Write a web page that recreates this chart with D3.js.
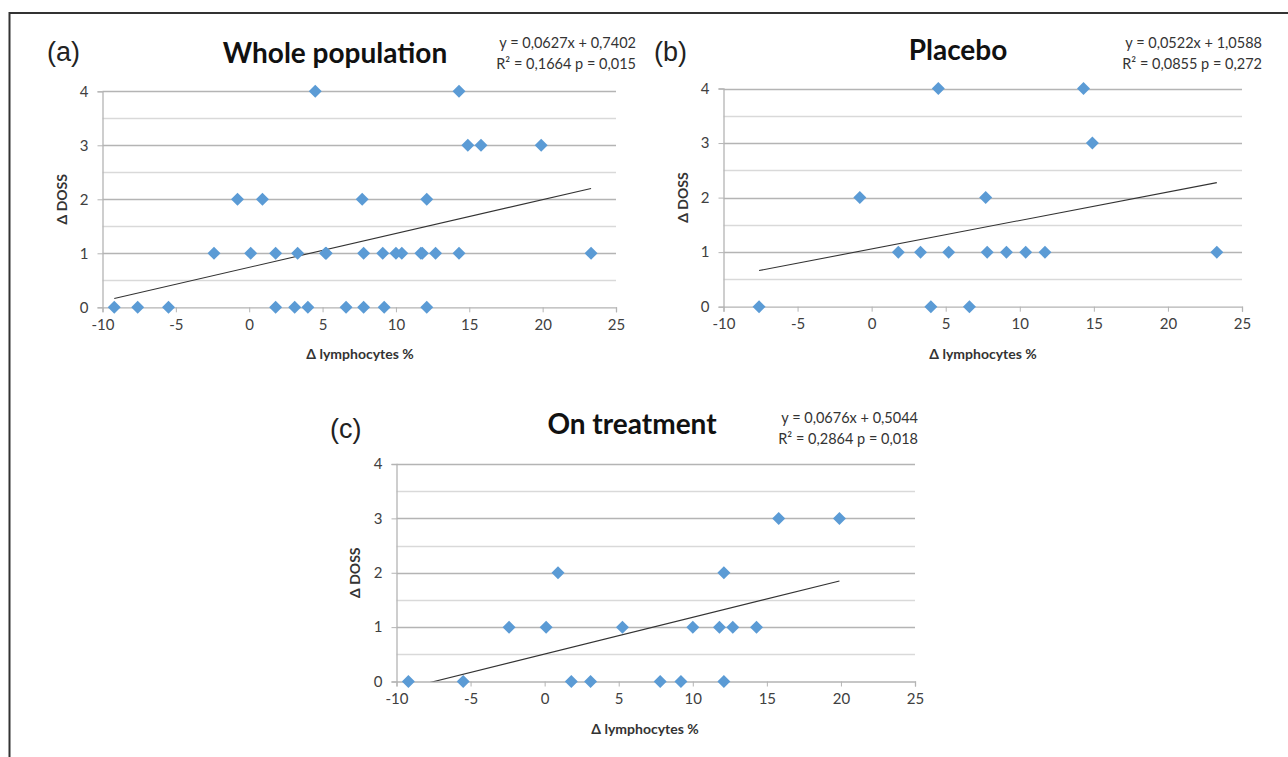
<!DOCTYPE html>
<html lang="en">
<head>
<meta charset="utf-8">
<title>DOSS vs lymphocytes</title>
<style>
  body { margin: 0; background: #fff; }
  svg { display: block; }
  .tick text { font-family: Lato, "Open Sans", sans-serif; font-size: 15px; fill: #404040; }
</style>
</head>
<body>
<div id="chart"></div>
<script src="https://d3js.org/d3.v7.min.js"></script>
<script>
// values
var xTicks = [-10, -5, 0, 5, 10, 15, 20, 25];
var yTicks = [0, 1, 2, 3, 4];

var placeboX = [-7.6, 4.0, 6.6, 1.8, 3.3, 5.2, 7.8, 9.1, 10.4, 11.7, 23.3, -0.8, 7.7, 14.9, 4.5, 14.3];
var placeboY = [0, 0, 0, 1, 1, 1, 1, 1, 1, 1, 1, 2, 2, 3, 4, 4];

var treatX = [-9.2, -5.5, 1.8, 3.1, 7.8, 9.2, 12.1, -2.4, 0.1, 5.25, 10.0, 11.8, 12.7, 14.3, 0.9, 12.1, 15.8, 19.9];
var treatY = [0, 0, 0, 0, 0, 0, 0, 1, 1, 1, 1, 1, 1, 1, 2, 2, 3, 3];

var panelTags = ["(a)", "(b)", "(c)"];
var panelTitles = ["Whole population", "Placebo", "On treatment"];
var slopes = [0.0627, 0.0522, 0.0676];
var intercepts = [0.7402, 1.0588, 0.5044];
var eqLine1 = ["y = 0,0627x + 0,7402", "y = 0,0522x + 1,0588", "y = 0,0676x + 0,5044"];
var eqLine2 = ["R\u00b2 = 0,1664 p = 0,015", "R\u00b2 = 0,0855 p = 0,272", "R\u00b2 = 0,2864 p = 0,018"];

var W = 1288, H = 757;
var svg = d3.select("#chart").append("svg").attr("width", W).attr("height", H);

// frame
svg.append("path")
    .attr("d", "M9.5," + H + " V13 H" + W)
    .attr("fill", "none")
    .attr("stroke", "#333")
    .attr("stroke-width", 2);

function toPoints(xs, ys) {
    return xs.map(function(x, i) { return { x: x, y: ys[i] }; });
}

var wholePts = toPoints(placeboX.concat(treatX), placeboY.concat(treatY));
var placeboPts = toPoints(placeboX, placeboY);
var treatPts = toPoints(treatX, treatY);

// plot boxes (left, right, top, bottom) and text anchors for each panel
var panels = [
    { pts: wholePts, x0: 102.5, x1: 616, y0: 307.3, y1: 91.3,
      tag: [47, 61], title: [335, 63], eq: [636, 48], yTitle: 62, xTitle: [360, 359] },
    { pts: placeboPts, x0: 723.5, x1: 1242, y0: 306.7, y1: 88.5,
      tag: [654, 61], title: [958, 60], eq: [1262, 48], yTitle: 683, xTitle: [983, 359] },
    { pts: treatPts, x0: 396.5, x1: 915, y0: 681.5, y1: 464,
      tag: [330, 438], title: [632, 434], eq: [918, 423], yTitle: 355, xTitle: [645, 734] }
];

var diamond = "M0,-6.5L6.5,0L0,6.5L-6.5,0Z";

panels.forEach(function(p, k) {
    var x = d3.scaleLinear().domain([-10, 25]).range([p.x0, p.x1]);
    var y = d3.scaleLinear().domain([0, 4]).range([p.y0, p.y1]);
    var g = svg.append("g");

    // grid every half unit
    var grid = d3.range(0.5, 4.01, 0.5);
    g.selectAll("line.grid")
        .data(grid)
        .enter()
        .append("line")
        .attr("class", "grid")
        .attr("x1", p.x0).attr("x2", p.x1)
        .attr("y1", function(d) { return Math.round(y(d)) + 0.5; })
        .attr("y2", function(d) { return Math.round(y(d)) + 0.5; })
        .attr("stroke", function(d) { return d % 1 === 0 ? "#b4b4b4" : "#d9d9d9"; })
        .attr("stroke-width", 1.3);

    var xAxis = g.append("g")
        .attr("transform", "translate(0," + p.y0 + ")")
        .call(d3.axisBottom(x).tickValues(xTicks).tickSize(5).tickPadding(7).tickFormat(String));
    var yAxis = g.append("g")
        .attr("transform", "translate(" + p.x0 + ",0)")
        .call(d3.axisLeft(y).tickValues(yTicks).tickSize(5).tickPadding(9).tickFormat(String));
    [xAxis, yAxis].forEach(function(a) {
        a.select(".domain").attr("stroke", "#b4b4b4").attr("stroke-width", 1.3);
        a.selectAll(".tick line").attr("stroke", "#b4b4b4");
        a.attr("font-family", null).attr("font-size", null);
    });

    // trend line, clipped to the plot area
    var clipId = "clip" + k;
    svg.append("clipPath").attr("id", clipId)
        .append("rect")
        .attr("x", p.x0).attr("y", p.y1)
        .attr("width", p.x1 - p.x0).attr("height", p.y0 - p.y1);
    var ext = d3.extent(p.pts, function(d) { return d.x; });
    var fit = ext.map(function(v) { return { x: v, y: slopes[k] * v + intercepts[k] }; });
    g.append("path")
        .datum(fit)
        .attr("clip-path", "url(#" + clipId + ")")
        .attr("d", d3.line().x(function(d) { return x(d.x); }).y(function(d) { return y(d.y); }))
        .attr("fill", "none")
        .attr("stroke", "#333")
        .attr("stroke-width", 1.1);

    g.selectAll("path.pt")
        .data(p.pts)
        .enter()
        .append("path")
        .attr("class", "pt")
        .attr("d", diamond)
        .attr("transform", function(d) { return "translate(" + x(d.x) + "," + y(d.y) + ")"; })
        .attr("fill", "#5b9bd5");

    // texts
    g.append("text")
        .attr("x", p.tag[0]).attr("y", p.tag[1])
        .attr("font-family", "'Liberation Sans', Arial, sans-serif")
        .attr("font-size", 27)
        .attr("fill", "#222")
        .text(panelTags[k]);

    g.append("text")
        .attr("x", p.title[0]).attr("y", p.title[1])
        .attr("text-anchor", "middle")
        .attr("font-family", "Lato, 'Open Sans', sans-serif")
        .attr("font-weight", "bold")
        .attr("font-size", 28)
        .attr("fill", "#111")
        .text(panelTitles[k]);

    g.append("text")
        .attr("x", p.eq[0]).attr("y", p.eq[1])
        .attr("text-anchor", "end")
        .attr("font-family", "Lato, 'Open Sans', sans-serif")
        .attr("font-size", 14.5)
        .attr("fill", "#333")
        .text(eqLine1[k]);
    g.append("text")
        .attr("x", p.eq[0]).attr("y", p.eq[1] + 21)
        .attr("text-anchor", "end")
        .attr("font-family", "Lato, 'Open Sans', sans-serif")
        .attr("font-size", 14.5)
        .attr("fill", "#333")
        .text(eqLine2[k]);

    g.append("text")
        .attr("transform", "translate(" + p.yTitle + "," + ((p.y0 + p.y1) / 2) + ") rotate(-90)")
        .attr("text-anchor", "middle")
        .attr("dy", "0.35em")
        .attr("font-family", "Lato, 'Open Sans', sans-serif")
        .attr("font-weight", "bold")
        .attr("font-size", 14)
        .attr("fill", "#333")
        .text("\u0394 DOSS");

    g.append("text")
        .attr("x", p.xTitle[0]).attr("y", p.xTitle[1])
        .attr("text-anchor", "middle")
        .attr("font-family", "Lato, 'Open Sans', sans-serif")
        .attr("font-weight", "bold")
        .attr("font-size", 14)
        .attr("fill", "#333")
        .text("\u0394 lymphocytes %");
});
</script>
</body>
</html>
